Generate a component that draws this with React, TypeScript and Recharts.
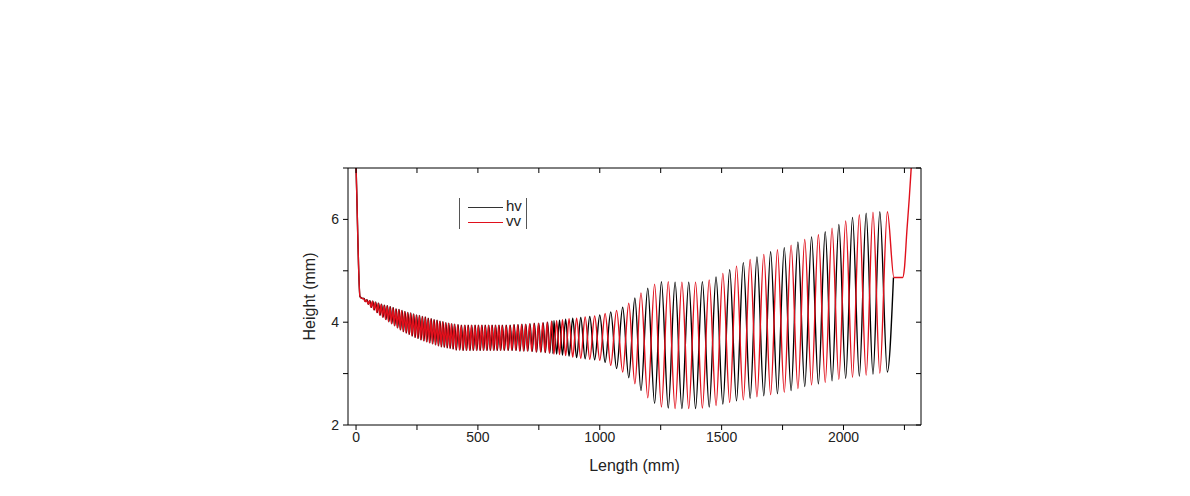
import { LineChart, Line, XAxis, YAxis } from "recharts";

// extremum positions (mm) of the vv trace
const turnX = [
  25, 31, 37, 43, 49, 55, 61, 67, 73, 79, 85, 91, 97, 103, 109, 115, 121, 127, 133, 139,
  145, 151, 157, 163, 169, 175, 181, 187, 193, 199, 205, 211, 217, 223, 229, 235, 241, 247, 253, 259,
  265, 271, 277, 283, 289, 295, 301, 307, 313, 319, 325, 331, 337, 343, 349, 355, 361, 367, 373, 379,
  385, 391, 397, 403,
  410, 417, 424, 431, 438, 445, 452, 459, 466, 473, 480, 487, 494, 501, 508, 515, 522, 529, 536, 543,
  550, 557, 564, 571, 578, 585, 592, 599, 607, 615, 623, 631, 639, 647, 655, 663, 671, 679, 687, 695,
  703, 712, 721, 730, 739, 748, 757, 766, 775, 784, 793, 802,
  812, 823, 835, 847, 860, 874, 889, 905, 922, 940, 959, 979, 1000, 1022, 1045, 1069, 1094, 1119,
  1144, 1169,
  1197, 1225, 1253, 1281, 1309, 1337, 1365, 1393, 1421, 1449, 1477, 1505, 1533, 1561, 1589, 1617,
  1645, 1673, 1701, 1729, 1757, 1785, 1813, 1841, 1869, 1897, 1925, 1953, 1981, 2009, 2037, 2065,
  2093, 2121, 2149, 2180,
];

// crest heights at each turn
const upperY = [
  4.47, 4.46, 4.45, 4.44, 4.43, 4.42, 4.41, 4.41, 4.4, 4.39, 4.38, 4.37, 4.36, 4.35, 4.34, 4.33,
  4.33, 4.32, 4.31, 4.3, 4.29, 4.28, 4.27, 4.26, 4.26, 4.25, 4.24, 4.23, 4.22, 4.21, 4.2, 4.19,
  4.19, 4.18, 4.17, 4.16, 4.15, 4.14, 4.13, 4.13, 4.12, 4.11, 4.1, 4.1, 4.09, 4.08, 4.07, 4.07,
  4.06, 4.05, 4.04, 4.04, 4.03, 4.02, 4.01, 4.01, 4.0, 3.99, 3.99, 3.98, 3.98, 3.97, 3.97, 3.96,
  3.95, 3.95, 3.95, 3.94, 3.94, 3.94, 3.94, 3.94, 3.94, 3.94, 3.94, 3.94, 3.94, 3.94, 3.94, 3.94,
  3.94, 3.94, 3.94, 3.94, 3.94, 3.94, 3.94, 3.94, 3.94, 3.94, 3.94, 3.94, 3.94, 3.94, 3.94, 3.94,
  3.95, 3.95, 3.95, 3.95, 3.95, 3.96, 3.96, 3.96, 3.97,
  3.97, 3.97, 3.98, 3.98, 3.98, 3.99, 3.99, 4.0, 4.0, 4.01, 4.02,
  4.03, 4.03, 4.04, 4.05, 4.06, 4.07, 4.08, 4.08, 4.09, 4.1, 4.11, 4.12, 4.14, 4.17, 4.2, 4.23,
  4.29, 4.37, 4.47, 4.57,
  4.66, 4.74, 4.79, 4.79, 4.78, 4.78, 4.78, 4.78, 4.79, 4.82, 4.88, 4.95, 5.02, 5.09, 5.16, 5.22,
  5.27, 5.32, 5.37, 5.41, 5.45, 5.5, 5.56, 5.61, 5.66, 5.7, 5.76, 5.83, 5.9, 5.97, 6.04, 6.09,
  6.12, 6.14, 6.15, 6.15,
];

// trough heights at each turn
const lowerY = [
  4.46, 4.43, 4.4, 4.37, 4.35, 4.32, 4.29, 4.27, 4.24, 4.22, 4.19, 4.17, 4.14, 4.12, 4.1, 4.07,
  4.05, 4.03, 4.01, 3.99, 3.97, 3.95, 3.93, 3.91, 3.89, 3.87, 3.85, 3.84, 3.82, 3.8, 3.79, 3.77,
  3.76, 3.74, 3.73, 3.71, 3.7, 3.69, 3.68, 3.67, 3.66, 3.65, 3.64, 3.63, 3.62, 3.61, 3.6, 3.59,
  3.58, 3.57, 3.56, 3.55, 3.54, 3.53, 3.52, 3.52, 3.51, 3.5, 3.5, 3.49, 3.49, 3.48, 3.48, 3.47,
  3.46, 3.46, 3.46, 3.46, 3.45, 3.45, 3.45, 3.45, 3.45, 3.45, 3.45, 3.45, 3.45, 3.45, 3.45, 3.45,
  3.45, 3.45, 3.45, 3.45, 3.45, 3.45, 3.45, 3.45, 3.45, 3.45, 3.45, 3.45, 3.45, 3.45, 3.45, 3.45,
  3.45, 3.45, 3.45, 3.44, 3.44, 3.44, 3.44, 3.44, 3.44,
  3.43, 3.43, 3.43, 3.42, 3.42, 3.42, 3.41, 3.41, 3.4, 3.4, 3.39,
  3.38, 3.38, 3.37, 3.36, 3.35, 3.34, 3.32, 3.31, 3.3, 3.29, 3.28, 3.27, 3.26, 3.22, 3.16, 3.1,
  3.03, 2.92, 2.8, 2.67,
  2.53, 2.42, 2.35, 2.33, 2.32, 2.32, 2.32, 2.32, 2.33, 2.35, 2.38, 2.41, 2.44, 2.47, 2.49, 2.52,
  2.55, 2.57, 2.59, 2.61, 2.64, 2.67, 2.71, 2.75, 2.78, 2.8, 2.83, 2.86, 2.89, 2.91, 2.93, 2.95,
  2.97, 2.99, 3.01, 3.03,
];

// hv trails vv by a hair (nearly in phase) up to here, then slips and runs opposite
const hvInPhaseUntil = 802;
const hvLag = 2;
const hvSlipX = [808];
const hvSlipY = [3.39];

// common steep drop at the start
const headX = [-3, 0, 3, 6, 10, 16];
const headY = [8.0, 7.05, 6.5, 5.9, 5.15, 4.5];

// end pieces
const hvTailX = [2205];
const hvTailY = [4.87];
const vvTailX = [2207, 2243, 2250, 2260, 2270, 2277, 2283];
const vvTailY = [4.87, 4.87, 5.05, 5.77, 6.42, 6.94, 7.4];

const xTicks = [0, 250, 500, 750, 1000, 1250, 1500, 1750, 2000, 2250];
const yTicks = [2, 3, 4, 5, 6, 7];

type Pt = { x: number; y: number };
const pts = (xs: number[], ys: number[]): Pt[] => xs.map((x, i) => ({ x, y: ys[i] }));
// vv sits on the crest at the last turn
const vvCrest = (i: number) => (turnX.length - 1 - i) % 2 === 0;

const vvTurns: Pt[] = turnX.map((x, i) => ({ x, y: vvCrest(i) ? upperY[i] : lowerY[i] }));
const hvTurns: Pt[] = [];
turnX.forEach((x, i) => {
  if (x <= hvInPhaseUntil) {
    hvTurns.push({ x: x + hvLag, y: vvCrest(i) ? upperY[i] : lowerY[i] });
    if (x === hvInPhaseUntil) hvTurns.push(...pts(hvSlipX, hvSlipY));
  } else {
    hvTurns.push({ x, y: vvCrest(i) ? lowerY[i] : upperY[i] });
  }
});

const hvData = [...pts(headX, headY), ...hvTurns, ...pts(hvTailX, hvTailY)];
const vvData = [...pts(headX, headY), ...vvTurns, ...pts(vvTailX, vvTailY)];

const FONT = '"Liberation Sans", Arial, sans-serif';
const tickStyle = { fill: "#222", fontSize: 14, fontFamily: FONT };
const RED = "#e0101c";

export default function App() {
  return (
    <div style={{ position: "relative", width: 1174, height: 480, fontFamily: FONT }}>
      <LineChart width={1174} height={480} margin={{ top: 160, right: 261, left: 290, bottom: 17 }}>
        <XAxis
          type="number"
          dataKey="x"
          domain={[-33, 2318]}
          allowDataOverflow
          ticks={xTicks}
          interval={0}
          tickFormatter={(v) => (v % 500 === 0 ? String(v) : "")}
          tick={tickStyle}
          tickSize={5}
          height={46}
          stroke="#000"
          label={{ value: "Length (mm)", position: "insideBottom", offset: 0, fill: "#222", fontSize: 16 }}
        />
        <XAxis
          xAxisId="top"
          orientation="top"
          type="number"
          dataKey="x"
          domain={[-33, 2318]}
          allowDataOverflow
          ticks={xTicks}
          interval={0}
          tickFormatter={() => ""}
          mirror
          height={1}
          tickSize={5}
          stroke="#000"
        />
        <YAxis
          type="number"
          domain={[2, 7]}
          allowDataOverflow
          ticks={yTicks}
          interval={0}
          tickFormatter={(v) => (v % 2 === 0 && v < 7 ? String(v) : "")}
          tick={tickStyle}
          tickSize={5}
          tickMargin={4}
          width={50}
          stroke="#000"
          label={{
            value: "Height (mm)",
            angle: -90,
            position: "insideLeft",
            offset: 11,
            fill: "#222",
            fontSize: 16,
            style: { textAnchor: "middle" },
          }}
        />
        <YAxis
          yAxisId="right"
          orientation="right"
          type="number"
          domain={[2, 7]}
          allowDataOverflow
          ticks={yTicks}
          interval={0}
          tickFormatter={() => ""}
          mirror
          width={1}
          tickSize={5}
          stroke="#000"
        />
        {/* invisible trace so the mirrored frame axes get drawn */}
        <Line
          xAxisId="top"
          yAxisId="right"
          data={hvData}
          dataKey="y"
          stroke="none"
          dot={false}
          legendType="none"
          isAnimationActive={false}
        />
        <Line
          data={hvData}
          dataKey="y"
          name="hv"
          type="monotone"
          stroke="#000"
          strokeWidth={1.4}
          dot={false}
          isAnimationActive={false}
        />
        <Line
          data={vvData}
          dataKey="y"
          name="vv"
          type="monotone"
          stroke={RED}
          strokeWidth={1.4}
          dot={false}
          isAnimationActive={false}
        />
      </LineChart>
      <div
        style={{
          position: "absolute",
          left: 451,
          top: 190,
          width: 66,
          height: 31,
          borderLeft: "1px solid #555",
          borderRight: "1px solid #555",
          fontSize: 15,
          color: "#222",
        }}
      >
        {[
          { name: "hv", color: "#333", top: 1 },
          { name: "vv", color: RED, top: 16 },
        ].map((it) => (
          <div key={it.name} style={{ position: "absolute", left: 0, top: it.top, height: 15, width: 66 }}>
            <div style={{ position: "absolute", left: 8, top: 8, width: 35, height: 1, background: it.color }} />
            <span style={{ position: "absolute", left: 46, top: -1, lineHeight: "16px" }}>{it.name}</span>
          </div>
        ))}
      </div>
    </div>
  );
}
